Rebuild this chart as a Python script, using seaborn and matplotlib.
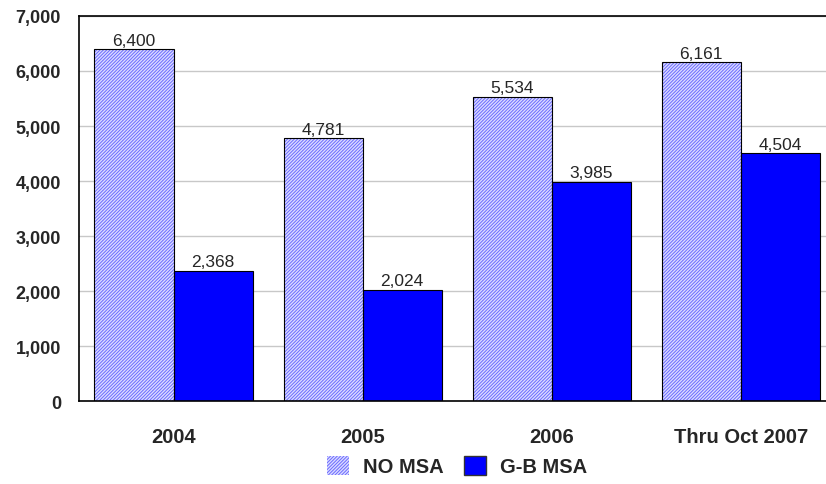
import seaborn as sns
import pandas as pd
import matplotlib.pyplot as plt
from matplotlib.patches import Patch, Rectangle

years = ["2004", "2005", "2006", "Thru Oct 2007"]
no_msa = [6400, 4781, 5534, 6161]
gb_msa = [2368, 2024, 3985, 4504]
series = ["NO MSA", "G-B MSA"]

df = pd.DataFrame({
    "year": years * 2,
    "count": no_msa + gb_msa,
    "series": [series[0]] * 4 + [series[1]] * 4,
})

sns.set_style("white")
plt.rcParams['font.family'] = ['Liberation Sans', 'DejaVu Sans']
plt.rcParams['hatch.linewidth'] = 0.7

hatch_col = "#6a6aff"
hatch_pat = "//////////"

fig = plt.figure(figsize=(8.26, 4.85), dpi=100)
ax = fig.add_axes([0.0956, 0.171, 0.9044, 0.794])

sns.barplot(data=df, x="year", y="count", hue="series", order=years,
            hue_order=series, palette=["#ffffff", "#0000ff"], width=0.836,
            saturation=1, edgecolor="black", linewidth=0.8, legend=False, ax=ax)

# hatched bars: hatch takes the edge colour, so outline them separately
for bar in ax.containers[0]:
    bar.set_facecolor("#dcdcff")
    bar.set_hatch(hatch_pat)
    bar.set_edgecolor(hatch_col)
    bar.set_linewidth(0)
    ax.add_patch(Rectangle(bar.get_xy(), bar.get_width(), bar.get_height(),
                           fill=False, edgecolor="black", linewidth=0.8, zorder=bar.get_zorder() + 0.1))

for cont in ax.containers:
    ax.bar_label(cont, labels=[f"{v:,.0f}" for v in cont.datavalues],
                 padding=1, fontsize=12.5)

ax.set_ylim(0, 7000)
ax.set_xlim(-0.5, 3.45)
ax.set_yticks(range(0, 7001, 1000))
ax.set_yticklabels([f"{v:,}" for v in range(0, 7001, 1000)],
                   fontsize=13, fontweight="bold")
ax.set_xticks(range(len(years)))
ax.set_xticklabels(years, fontsize=14.5, fontweight="bold")
ax.tick_params(axis="x", length=0, pad=19)
ax.tick_params(axis="y", length=0, pad=13)
ax.set_xlabel("")
ax.set_ylabel("")
ax.yaxis.grid(True, color="#c8c8c8", linewidth=1)
ax.set_axisbelow(True)
for s in ["left", "bottom", "top"]:
    ax.spines[s].set_visible(True)
    ax.spines[s].set_color("black")
    ax.spines[s].set_linewidth(1.2)
ax.spines["right"].set_visible(False)

handles = [Patch(facecolor="#dcdcff", hatch=hatch_pat, edgecolor=hatch_col, linewidth=0, label=series[0]),
           Patch(facecolor="#0000ff", edgecolor="#333333", label=series[1])]
fig.legend(handles=handles, loc="center", bbox_to_anchor=(0.553, 0.037), ncol=2,
           frameon=False, prop={"weight": "bold", "size": 14.5},
           handlelength=1.1, handleheight=1.1, columnspacing=1.0, handletextpad=0.7)

fig.savefig("out.png", dpi=100)
